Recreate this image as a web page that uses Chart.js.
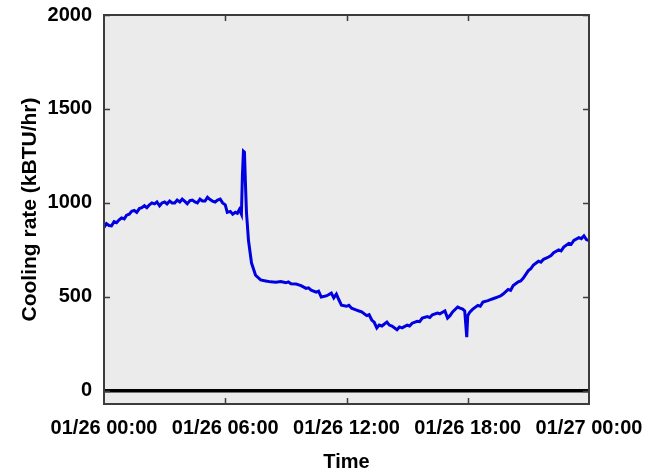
<!DOCTYPE html>
<html>
<head>
<meta charset="utf-8">
<script src="https://cdn.jsdelivr.net/npm/chart.js@4.4.1/dist/chart.umd.min.js"></script>
<style>
  html, body { margin: 0; padding: 0; background: #ffffff; }
  #wrap { width: 663px; height: 474px; overflow: hidden; position: relative; }
  #c { position: absolute; left: 0; top: -9px; }
</style>
</head>
<body>
<div id="wrap"><canvas id="c" width="663" height="483"></canvas></div>
<script>
// Time in hours since 01/26 00:00
const hours = [
  0.0, 0.12, 0.25, 0.37, 0.5, 0.62, 0.75, 0.87, 1.0, 1.12, 1.25, 1.37, 1.5, 1.62, 1.75, 1.87,
  2.0, 2.12, 2.25, 2.37, 2.5, 2.62, 2.75, 2.87, 3.0, 3.12, 3.25, 3.37, 3.5, 3.62, 3.75, 3.87,
  4.0, 4.12, 4.25, 4.37, 4.5, 4.62, 4.75, 4.87, 5.0, 5.12, 5.25, 5.37, 5.5, 5.62, 5.75, 5.87,
  6.0, 6.1, 6.25, 6.37, 6.5, 6.6, 6.7, 6.8, 6.85, 6.9, 6.95, 7.0, 7.05, 7.15, 7.3, 7.5,
  7.75, 8.0, 8.25, 8.5, 8.75, 9.0, 9.12, 9.25, 9.5, 9.75, 10.0, 10.12, 10.25, 10.5, 10.62, 10.75,
  11.0, 11.25, 11.37, 11.5, 11.6, 11.75, 12.0, 12.12, 12.25, 12.5, 12.62, 12.75, 13.0, 13.12, 13.25,
  13.37, 13.5, 13.62, 13.75, 14.0, 14.12, 14.25, 14.5, 14.62, 14.75, 15.0, 15.12, 15.25, 15.5,
  15.62, 15.75, 16.0, 16.12, 16.25, 16.5, 16.62, 16.75, 16.87, 17.0, 17.12, 17.25, 17.5, 17.62,
  17.75, 17.85, 17.95, 18.0, 18.1, 18.25, 18.5, 18.62, 18.75, 19.0, 19.12, 19.25, 19.5, 19.62,
  19.75, 20.0, 20.12, 20.25, 20.5, 20.62, 20.75, 21.0, 21.12, 21.25, 21.5, 21.62, 21.75, 22.0,
  22.12, 22.25, 22.5, 22.62, 22.75, 23.0, 23.12, 23.25, 23.5, 23.62, 23.75, 23.87, 24.0
];
// Cooling rate (kBTU/hr)
const rate = [
  870, 890, 880, 878, 900, 895, 910, 920, 915, 935, 940, 955, 960, 950, 970, 975,
  985, 975, 990, 1000, 995, 1005, 985, 1000, 1005, 995, 1010, 1000, 1000, 1015, 1005, 1020,
  1008, 995, 1012, 1015, 1005, 1000, 1020, 1010, 1010, 1030, 1018, 1010, 1005, 1015, 1020, 1000,
  990, 950, 955, 940, 950, 945, 965, 940, 1150, 1275, 1270, 1100, 950, 800, 680, 615,
  590, 585, 580, 578, 582, 575, 580, 570, 568, 560, 545, 548, 536, 525, 530, 499,
  505, 520, 495, 515, 490, 456, 450, 455, 440, 430, 425, 420, 400, 405, 377,
  365, 335, 350, 345, 366, 350, 345, 325, 340, 335, 350, 345, 360, 370,
  368, 387, 395, 390, 405, 414, 410, 418, 425, 387, 400, 420, 446, 440,
  435, 425, 286, 400, 419, 435, 455, 450, 472, 480, 485, 490, 500, 505,
  515, 540, 535, 560, 580, 585, 600, 640, 650, 670, 690, 685, 700, 712,
  720, 735, 750, 745, 765, 785, 780, 800, 815, 810, 825, 805, 800
];
const zeroLine = [0, 0];
const zeroHours = [0, 24];
const xTickValues = [0, 6, 12, 18, 24];
const xTickLabels = ['01/26 00:00', '01/26 06:00', '01/26 12:00', '01/26 18:00', '01/27 00:00'];
const yTickValues = [0, 500, 1000, 1500, 2000];
const yTickLabels = ['0', '500', '1000', '1500', '2000'];

const frame = {
  id: 'frame',
  beforeDatasetsDraw(chart) {
    const {ctx, chartArea: a} = chart;
    ctx.save();
    ctx.fillStyle = '#ebebeb';
    ctx.fillRect(a.left, a.top, a.right - a.left, a.bottom - a.top);
    ctx.restore();
  },
  afterDraw(chart) {
    const {ctx, chartArea: a, scales} = chart;
    ctx.save();
    ctx.strokeStyle = '#3c3c3c';
    ctx.lineWidth = 1.5;
    ctx.beginPath();
    xTickValues.slice(1, -1).forEach(v => {
      const x = Math.round(scales.x.getPixelForValue(v)) + 0.5;
      ctx.moveTo(x, a.top); ctx.lineTo(x, a.top + 6);
      ctx.moveTo(x, a.bottom); ctx.lineTo(x, a.bottom - 6);
    });
    yTickValues.forEach(v => {
      const y = Math.round(scales.y.getPixelForValue(v)) + 0.5;
      ctx.moveTo(a.left, y); ctx.lineTo(a.left + 6, y);
      ctx.moveTo(a.right, y); ctx.lineTo(a.right - 6, y);
    });
    ctx.stroke();
    ctx.lineWidth = 2;
    ctx.strokeRect(a.left, a.top, a.right - a.left, a.bottom - a.top);
    ctx.restore();
  }
};

const fontFam = '"Liberation Sans", Arial, sans-serif';

new Chart(document.getElementById('c'), {
  type: 'line',
  data: {
    datasets: [
      {
        data: zeroHours.map((h, i) => ({x: h, y: zeroLine[i]})),
        borderColor: '#000000',
        borderWidth: 3.5,
        pointRadius: 0,
        tension: 0
      },
      {
        data: hours.map((h, i) => ({x: h, y: rate[i]})),
        borderColor: '#0000e0',
        borderWidth: 3,
        pointRadius: 0,
        tension: 0
      }
    ]
  },
  options: {
    responsive: false,
    animation: false,
    layout: { padding: { top: 5, right: 74, left: 0, bottom: 0 } },
    plugins: { legend: { display: false }, tooltip: { enabled: false }, title: { display: false } },
    scales: {
      x: {
        type: 'linear',
        min: 0, max: 24,
        grid: { display: false, drawTicks: false },
        border: { display: false },
        afterBuildTicks(s) { s.ticks = xTickValues.map(v => ({value: v})); },
        afterFit(s) { s.height = 70; },
        ticks: {
          padding: 12,
          maxRotation: 0,
          autoSkip: false,
          color: '#000000',
          font: { family: fontFam, size: 20, weight: 'bold' },
          callback: (v) => xTickLabels[xTickValues.indexOf(v)]
        },
        title: {
          display: true, text: 'Time', color: '#000000',
          font: { family: fontFam, size: 20, weight: 'bold' },
          padding: { top: 0, bottom: 0 }
        }
      },
      y: {
        min: -70, max: 2000,
        grid: { display: false, drawTicks: false },
        border: { display: false },
        afterBuildTicks(s) { s.ticks = yTickValues.map(v => ({value: v})); },
        afterFit(s) { s.width = 104; },
        ticks: {
          padding: 12,
          color: '#000000',
          font: { family: fontFam, size: 20, weight: 'bold' },
          callback: (v) => yTickLabels[yTickValues.indexOf(v)]
        },
        title: {
          display: true, text: 'Cooling rate (kBTU/hr)', color: '#000000',
          font: { family: fontFam, size: 21, weight: 'bold' },
          padding: { top: 18, bottom: 0 }
        }
      }
    }
  },
  plugins: [frame]
});
</script>
</body>
</html>
